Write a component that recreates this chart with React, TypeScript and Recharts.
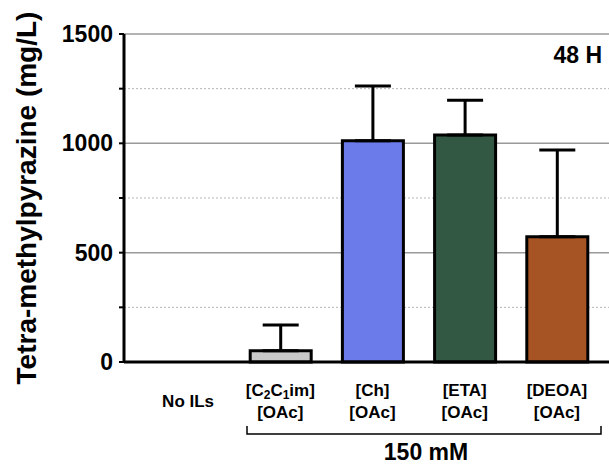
import { BarChart, Bar, XAxis, YAxis, CartesianGrid, ErrorBar, Cell } from 'recharts';

const categories = ['No ILs', '[C_2C_1im]\n[OAc]', '[Ch]\n[OAc]', '[ETA]\n[OAc]', '[DEOA]\n[OAc]'];
const means = [null, 52, 1012, 1038, 573];
const sds = [0, 117, 250, 159, 396];
const yTicks = [0, 250, 500, 750, 1000, 1250, 1500];
const colors = ['#ffffff', '#c8c8c8', '#6b7bea', '#325843', '#a65423'];

const data = categories.map((c, i) => ({ name: c, value: means[i], err: [0, sds[i]] }));

const FONT = '"Liberation Sans", Arial, sans-serif';

const renderLine = (text: string) => {
  const parts = text.split(/(_\d)/).filter((p) => p !== '');
  return parts.map((p, i) =>
    p.startsWith('_') ? (
      <tspan key={i} fontSize={12} dy={3}>
        {p.slice(1)}
      </tspan>
    ) : (
      <tspan key={i} dy={i > 0 && parts[i - 1].startsWith('_') ? -3 : 0}>
        {p}
      </tspan>
    )
  );
};

const CategoryTick = ({ x, y, payload }: any) => {
  const lines = String(payload.value).split('\n');
  const base = lines.length === 1 ? 43 : 32;
  return (
    <g>
      {lines.map((l, i) => (
        <text
          key={i}
          x={x}
          y={y + base + i * 22}
          textAnchor="middle"
          fontFamily={FONT}
          fontWeight="bold"
          fontSize={17}
          fill="#000"
        >
          {renderLine(l)}
        </text>
      ))}
    </g>
  );
};

const gridLine = (props: any) => {
  const { x1, x2, y1, y2, index } = props;
  const major = index % 2 === 0;
  return (
    <line
      key={`g${index}`}
      x1={x1}
      x2={x2}
      y1={y1}
      y2={y2}
      stroke={major ? '#9a9a9a' : '#b5b5b5'}
      strokeWidth={major ? 1.5 : 1}
      strokeDasharray={major ? undefined : '2 2'}
    />
  );
};

export default function App() {
  return (
    <div style={{ position: 'absolute', left: 0, top: 0, width: 609, height: 464 }}>
      <BarChart
        width={609}
        height={464}
        data={data}
        margin={{ top: 34, right: 0, left: 0, bottom: 0 }}
        barCategoryGap={0}
      >
        <CartesianGrid vertical={false} horizontal={gridLine} />
        <XAxis
          dataKey="name"
          height={102}
          padding={{ left: 18, right: 6 }}
          tick={<CategoryTick />}
          tickLine={false}
          tickSize={0}
          interval={0}
          axisLine={{ stroke: '#000', strokeWidth: 3 }}
        />
        <YAxis
          width={124}
          domain={[0, 1500]}
          ticks={yTicks}
          interval={0}
          tickFormatter={(v: number) => (v % 500 === 0 ? String(v) : '')}
          tick={{ fill: '#000', fontSize: 23, fontWeight: 'bold', fontFamily: FONT }}
          tickSize={5}
          tickMargin={6}
          tickLine={{ stroke: '#000', strokeWidth: 2 }}
          axisLine={{ stroke: '#000', strokeWidth: 3 }}
          label={{
            value: 'Tetra-methylpyrazine (mg/L)',
            angle: -90,
            position: 'insideLeft',
            offset: 26,
            style: { textAnchor: 'middle', fill: '#000', fontSize: 28, fontWeight: 'bold', fontFamily: FONT },
          }}
        />
        <Bar dataKey="value" barSize={61} stroke="#000" strokeWidth={3} isAnimationActive={false}>
          {data.map((d, i) => (
            <Cell key={d.name} fill={colors[i]} />
          ))}
          <ErrorBar dataKey="err" direction="y" width={18} stroke="#000" strokeWidth={3} isAnimationActive={false} />
        </Bar>
      </BarChart>
      <svg width={609} height={464} style={{ position: 'absolute', left: 0, top: 0, pointerEvents: 'none' }}>
        <text x={602} y={63} textAnchor="end" fontFamily={FONT} fontWeight="bold" fontSize={23} fill="#000">
          48 H
        </text>
        <path d="M247 426 V434 H601 V426" fill="none" stroke="#000" strokeWidth={1.5} />
        <text x={426} y={460} textAnchor="middle" fontFamily={FONT} fontWeight="bold" fontSize={23} fill="#000">
          150 mM
        </text>
      </svg>
    </div>
  );
}
